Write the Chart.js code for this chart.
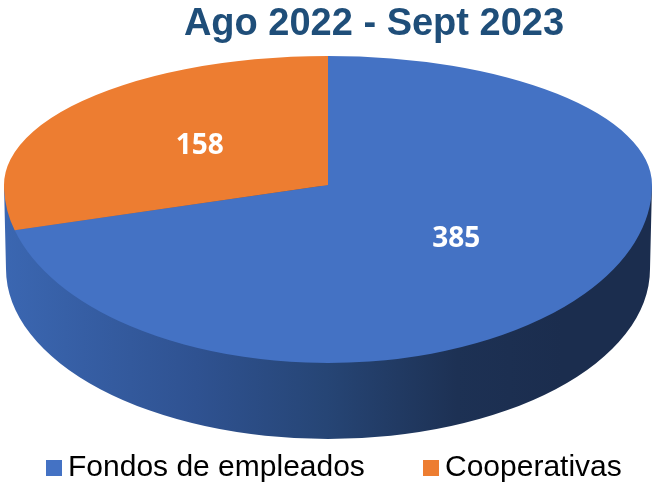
<!DOCTYPE html>
<html>
<head>
<meta charset="utf-8">
<script src="https://cdn.jsdelivr.net/npm/chart.js@4"></script>
<style>
  html, body { margin: 0; padding: 0; background: #fff; }
  canvas { display: block; }
</style>
</head>
<body>
<canvas id="chart" width="653" height="485"></canvas>
<script>
// --- datos ---
const labels = ['Fondos de empleados', 'Cooperativas'];
const values = [385, 158];
const colors = ['#4472C4', '#ED7D31'];
const titleText = 'Ago 2022 - Sept 2023';

// --- geometría de la "tarta 3D" (cara superior + lateral) ---
const CX = 328, CY = 185;      // centro proyectado del círculo
const RX = 324;                // radio horizontal
const RY_BACK = 129;           // semieje hacia el fondo
const RY_FRONT = 178;          // semieje hacia el frente
const CYB = 269, RXB = 322, RYB = 170; // contorno inferior del lateral

const pie3d = {
  id: 'pie3d',
  beforeDatasetsDraw(chart) {
    const ctx = chart.ctx;
    const meta = chart.getDatasetMeta(0);
    const a0 = meta.data[0];
    const r = a0.outerRadius, ox = a0.x, oy = a0.y;

    // lateral
    ctx.save();
    const g = ctx.createLinearGradient(0, 0, chart.width, 0);
    g.addColorStop(0, '#3b67b2');
    g.addColorStop(0.30, '#2f5291');
    g.addColorStop(0.50, '#264575');
    g.addColorStop(0.70, '#1d3154');
    g.addColorStop(0.86, '#1b2d4e');
    g.addColorStop(1, '#1b2d4e');
    ctx.fillStyle = g;
    ctx.beginPath();
    ctx.moveTo(CX - RX, CY);
    ctx.lineTo(CX - RXB, CYB);
    ctx.ellipse(CX, CYB, RXB, RYB, 0, Math.PI, 0, true);
    ctx.lineTo(CX + RX, CY);
    ctx.closePath();
    ctx.fill();
    ctx.restore();

    // cara superior: mitad trasera y mitad delantera con distinta escala
    [[0, CY + 1, RY_BACK], [CY, chart.height, RY_FRONT]].forEach(([y0, y1, ry]) => {
      ctx.save();
      ctx.beginPath();
      ctx.rect(0, y0, chart.width, y1 - y0);
      ctx.clip();
      ctx.translate(CX, CY);
      ctx.scale(RX / r, ry / r);
      ctx.translate(-ox, -oy);
      meta.data.forEach(a => a.draw(ctx));
      ctx.restore();
    });
    return false;
  },
  afterDraw(chart) {
    const ctx = chart.ctx;
    const meta = chart.getDatasetMeta(0);
    const a0 = meta.data[0];
    const r = a0.outerRadius, ox = a0.x, oy = a0.y;

    // etiquetas de valores
    ctx.save();
    ctx.fillStyle = '#ffffff';
    ctx.font = 'bold 28px "Open Sans", sans-serif';
    ctx.textAlign = 'center';
    ctx.textBaseline = 'middle';
    meta.data.forEach((a, i) => {
      const p = a.tooltipPosition();
      const dy = p.y - oy;
      const x = CX + (p.x - ox) * RX / r;
      const y = CY + dy * (dy < 0 ? RY_BACK : RY_FRONT) / r;
      ctx.fillText(String(values[i]), x, y);
    });
    ctx.restore();

    // título
    ctx.save();
    ctx.fillStyle = '#1F4E79';
    ctx.font = 'bold 38px "Liberation Sans", Arial, sans-serif';
    ctx.textAlign = 'center';
    ctx.textBaseline = 'alphabetic';
    ctx.fillText(titleText, 374, 35);
    ctx.restore();

    // leyenda
    const legendX = [46, 423];
    ctx.save();
    ctx.font = '30px "Liberation Sans", Arial, sans-serif';
    ctx.textBaseline = 'alphabetic';
    labels.forEach((lab, i) => {
      ctx.fillStyle = colors[i];
      ctx.fillRect(legendX[i], 460, 16, 16);
      ctx.fillStyle = '#000000';
      ctx.fillText(lab, legendX[i] + 22, 476);
    });
    ctx.restore();
  }
};

new Chart(document.getElementById('chart'), {
  type: 'pie',
  data: {
    labels: labels,
    datasets: [{
      data: values,
      backgroundColor: colors,
      borderWidth: 0
    }]
  },
  options: {
    responsive: false,
    animation: false,
    devicePixelRatio: 1,
    layout: { padding: 0 },
    plugins: {
      legend: { display: false },
      title: { display: false },
      tooltip: { enabled: false }
    }
  },
  plugins: [pie3d]
});
</script>
</body>
</html>
